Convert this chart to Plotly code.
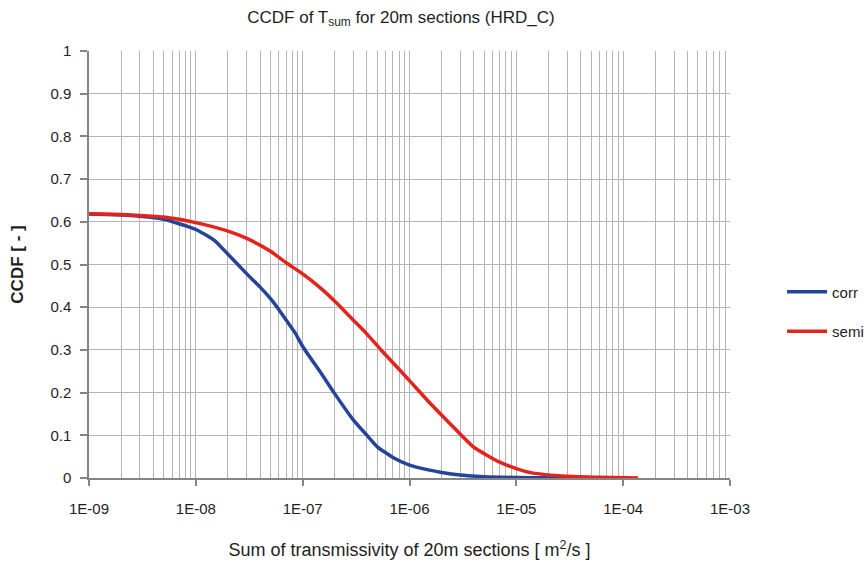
import plotly.graph_objects as go

# Data
corr_x = [1e-9, 2e-9, 3e-9, 5e-9, 1e-8, 1.5e-8, 2e-8, 3e-8, 4e-8, 5e-8, 6e-8, 7e-8, 8.5e-8,
          1e-7, 1.5e-7, 2e-7, 3e-7, 4e-7, 5e-7, 7e-7, 1e-6, 1.5e-6, 2e-6, 3e-6, 5e-6,
          1e-5, 2e-5, 4.2e-5]
corr_y = [0.618, 0.616, 0.613, 0.606, 0.582, 0.556, 0.524, 0.478, 0.447, 0.420, 0.394, 0.370, 0.340,
          0.308, 0.244, 0.197, 0.135, 0.100, 0.073, 0.048, 0.030, 0.019, 0.013, 0.007, 0.003,
          0.0012, 0.0004, 0.0]

semi_x = [1e-9, 2e-9, 3e-9, 5e-9, 1e-8, 2e-8, 3e-8, 5e-8, 7e-8, 1e-7, 1.5e-7, 2e-7, 3e-7, 4e-7,
          5.5e-7, 7e-7, 1e-6, 1.6e-6, 2.4e-6, 4e-6, 7e-6, 1e-5, 1.4e-5, 3e-5, 6e-5, 1.38e-4]
semi_y = [0.619, 0.617, 0.615, 0.611, 0.598, 0.578, 0.561, 0.531, 0.504, 0.478, 0.443, 0.414, 0.369, 0.337,
          0.298, 0.270, 0.228, 0.172, 0.127, 0.072, 0.037, 0.022, 0.012, 0.004, 0.0015, 0.0]

x_tickvals = [1e-9, 1e-8, 1e-7, 1e-6, 1e-5, 1e-4, 1e-3]
x_ticktext = ["1E-09", "1E-08", "1E-07", "1E-06", "1E-05", "1E-04", "1E-03"]
y_tickvals = [0, 0.1, 0.2, 0.3, 0.4, 0.5, 0.6, 0.7, 0.8, 0.9, 1]
y_ticktext = ["0", "0.1", "0.2", "0.3", "0.4", "0.5", "0.6", "0.7", "0.8", "0.9", "1"]

FONT = "Liberation Sans, Arial, sans-serif"
GRID = "#b4b4b4"
AXIS = "#858585"
TXT = "#1e1e1e"

fig = go.Figure()
fig.add_trace(go.Scatter(x=corr_x, y=corr_y, mode="lines", name="corr",
                         line=dict(color="#23449a", width=3.5, shape="spline", smoothing=0.5),
                         legendgroup="a"))
fig.add_trace(go.Scatter(x=semi_x, y=semi_y, mode="lines", name="semi",
                         line=dict(color="#e5231c", width=3.5, shape="spline", smoothing=0.5),
                         legendgroup="b"))

fig.update_layout(
    width=868, height=564,
    margin=dict(l=89, r=138, t=51, b=86),
    paper_bgcolor="white", plot_bgcolor="white",
    font=dict(family=FONT, color=TXT, size=15),
    title=dict(text="CCDF of T<sub>sum</sub> for 20m sections (HRD_C)",
               x=0.462, xanchor="center", y=0.97, yanchor="middle",
               font=dict(size=17, family=FONT, color=TXT)),
    legend=dict(xref="container", yref="container", x=0.901, y=0.4477,
                xanchor="left", yanchor="middle", itemwidth=40,
                font=dict(size=15, family=FONT, color=TXT),
                tracegroupgap=17, traceorder="grouped", bgcolor="rgba(0,0,0,0)"),
    showlegend=True,
)

fig.update_xaxes(
    type="log", range=[-9, -3],
    tickvals=x_tickvals, ticktext=x_ticktext,
    showgrid=True, gridcolor=GRID, gridwidth=1.3,
    showline=True, linecolor=AXIS, linewidth=1.5,
    ticks="outside", ticklen=6, tickcolor=AXIS, tickwidth=1.5,
    tickfont=dict(size=15, family=FONT, color=TXT),
    ticklabelstandoff=10,
    minor=dict(dtick="D1", showgrid=True, gridcolor=GRID, gridwidth=1.3, ticks=""),
    mirror=False, zeroline=False, automargin=False,
    title=dict(text="Sum of transmissivity of 20m sections [ m<sup>2</sup>/s ]",
               font=dict(size=18, family=FONT, color=TXT), standoff=28),
)
fig.update_yaxes(
    range=[0, 1],
    tickvals=y_tickvals, ticktext=y_ticktext,
    showgrid=True, gridcolor=GRID, gridwidth=1.3,
    showline=True, linecolor=AXIS, linewidth=1.5,
    ticks="outside", ticklen=7, tickcolor=AXIS, tickwidth=1.5,
    tickfont=dict(size=15, family=FONT, color=TXT),
    ticklabelstandoff=6,
    zeroline=False, automargin=False,
    title=dict(text="<b>CCDF [ - ]</b>", font=dict(size=17, family=FONT, color=TXT), standoff=22),
)

fig.write_html("out.html")
